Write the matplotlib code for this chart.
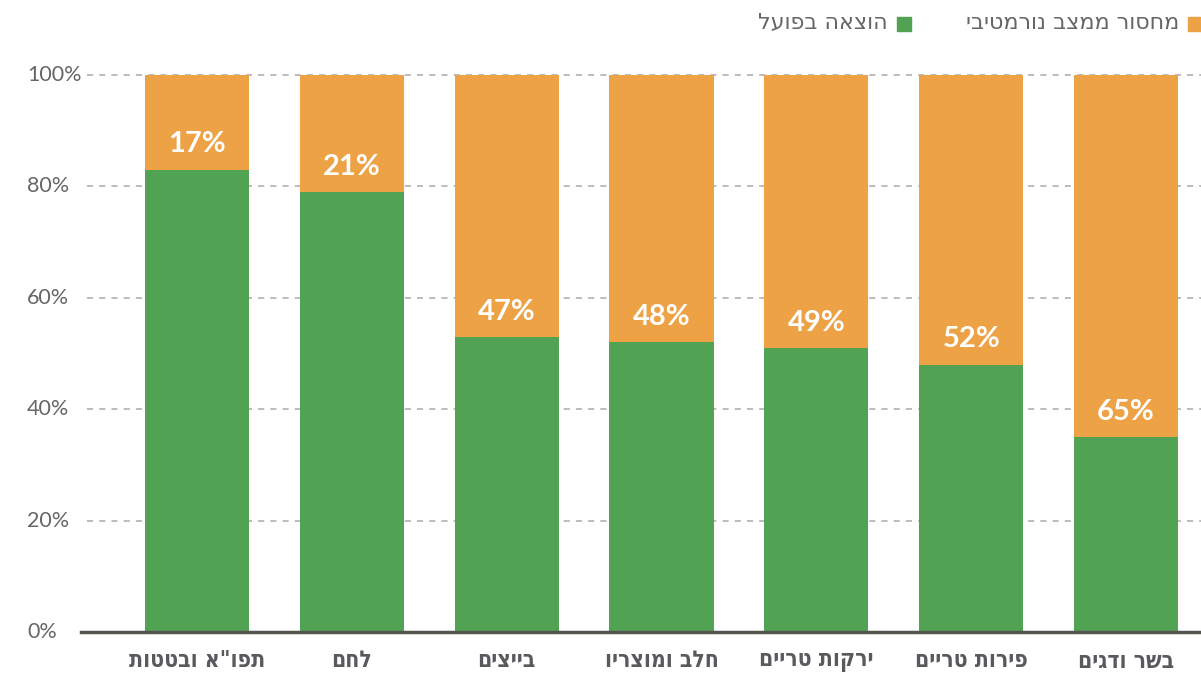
import matplotlib
matplotlib.use("Agg")
import matplotlib.pyplot as plt
from matplotlib.patches import Rectangle
from matplotlib.transforms import blended_transform_factory

# Food categories (Hebrew, logical order) and shortage share in percent
categories = ["תפו\"א ובטטות", "לחם", "בייצים", "חלב ומוצריו", "ירקות טריים", "פירות טריים", "בשר ודגים"]
shortage = [17, 21, 47, 48, 49, 52, 65]
actual = [100 - s for s in shortage]
yticks = [0, 20, 40, 60, 80, 100]
legend_labels = ["מחסור ממצב נורמטיבי", "הוצאה בפועל"]

ORANGE = "#ECA245"
GREEN = "#51A253"
GREY = "#666666"


def rtl(s):
    """Visual order for right-to-left text (matplotlib has no bidi support)."""
    return s[::-1]


W, H = 1201, 674
fig = plt.figure(figsize=(W / 100, H / 100), dpi=100)
left, right, bottom, top = 81, 1201, 632, 72
ax = fig.add_axes([left / W, 1 - bottom / H, (right - left) / W, (bottom - top) / H])

x = list(range(len(categories)))
ax.bar(x, actual, width=0.672, color=GREEN, zorder=3)
ax.bar(x, shortage, bottom=actual, width=0.672, color=ORANGE, zorder=3)

for xi, a, s in zip(x, actual, shortage):
    ax.text(xi, a + 4.5, f"{s}%", ha="center", va="center", color="white",
            fontsize=21, fontweight="bold", family=["Lato", "DejaVu Sans"], zorder=4)

ax.set_xlim(-0.749, 6.484)
ax.set_ylim(0, 100.5)

# dashed gridlines
for t in yticks[1:]:
    ax.axhline(t, xmin=0.005, xmax=1, color="#AAAAAA", lw=1.1, ls=(0, (4, 4)), zorder=1)

for sp in ["top", "right", "left"]:
    ax.spines[sp].set_visible(False)
ax.spines["bottom"].set_color("#555550")
ax.spines["bottom"].set_linewidth(2.5)
ax.spines["bottom"].set_zorder(5)

ax.set_yticks([])
ax.set_xticks([])

# y tick labels, left aligned
trans = blended_transform_factory(fig.transFigure, ax.transData)
for t in yticks:
    fig.text(27 / W, t, f"{t}%", transform=trans, ha="left", va="center",
             color=GREY, fontsize=15.5, family=["Lato", "DejaVu Sans"])

# category labels
for xi, c in zip(x, categories):
    ax.text(xi, -5.2, rtl(c), ha="center", va="center", color="#5A5A5E",
            fontsize=16.5, fontweight="bold", fontstretch="condensed",
            family=["DejaVu Sans"], transform=ax.transData, clip_on=False)

# legend (right-to-left: square on the right of each label)
def legend_item(x_sq, color, label):
    fig.patches.append(Rectangle((x_sq / W, 1 - 31 / H), 14 / W, 14 / H,
                                 transform=fig.transFigure, color=color, figure=fig))
    fig.text((x_sq - 9) / W, 1 - 23 / H, rtl(label), ha="right", va="center",
             color=GREY, fontsize=16, family=["DejaVu Sans"])

legend_item(1188, ORANGE, legend_labels[0])
legend_item(897, GREEN, legend_labels[1])

fig.savefig("out.png", dpi=100)
